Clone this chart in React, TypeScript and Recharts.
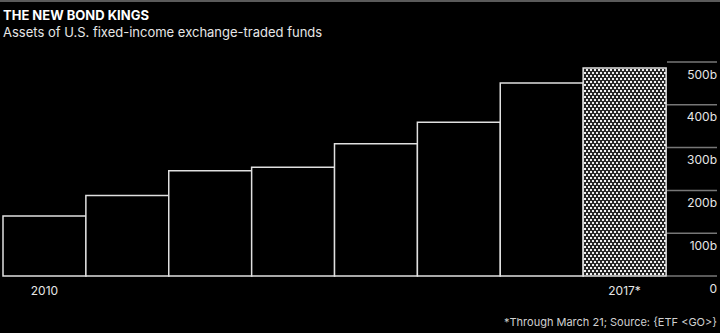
import { BarChart, Bar, XAxis, YAxis, Cell } from 'recharts'

const years = ['2010', '2011', '2012', '2013', '2014', '2015', '2016', '2017*']
const assets = [140, 188, 246, 254, 309, 359, 451, 486]
const yTicks = [0, 100, 200, 300, 400, 500]
const xLabels = ['2010', '2017*']

const data = years.map((year, i) => ({ year, assets: assets[i] }))

const W = 720
const H = 333
const margin = { top: 62, right: 3, left: 3, bottom: 27 }
const yAxisWidth = 51
const plotRight = W - margin.right - yAxisWidth
const font = 'Inter, Roboto, sans-serif'

const YTick = ({ y, payload }: any) => {
  const v = payload.value
  return (
    <g>
      <line x1={plotRight + 1} x2={W - margin.right} y1={y} y2={y} stroke="#777" strokeWidth={1.5} />
      <text x={W - margin.right} y={y + 16.5} textAnchor="end" fill="#e6e6e6" fontSize={12} fontFamily={font}>
        {v === 0 ? '0' : `${v}b`}
      </text>
    </g>
  )
}

const XTick = ({ x, y, payload }: any) => {
  if (!xLabels.includes(payload.value)) return null
  return (
    <text x={x} y={y + 11} textAnchor="middle" fill="#e6e6e6" fontSize={12} fontFamily={font}>
      {payload.value}
    </text>
  )
}

export default function App() {
  return (
    <div style={{ position: 'absolute', left: 0, top: 0, width: W, height: H, background: '#000', overflow: 'hidden' }}>
      <div style={{ position: 'absolute', left: 0, top: 0, width: W, height: 2, background: '#5a5a5a' }} />
      <div style={{ position: 'absolute', left: 3, top: 7, color: '#fff', fontFamily: font, fontWeight: 700, fontSize: 13, lineHeight: '16px' }}>
        THE NEW BOND KINGS
      </div>
      <div style={{ position: 'absolute', left: 3, top: 24, color: '#e6e6e6', fontFamily: font, fontSize: 13, lineHeight: '16px' }}>
        Assets of U.S. fixed-income exchange-traded funds
      </div>
      <div style={{ position: 'absolute', right: 3, top: 315, color: '#d0d0d0', fontFamily: font, fontSize: 11, lineHeight: '14px' }}>
        *Through March 21; Source: {'{ETF <GO>}'}
      </div>
      <div style={{ position: 'absolute', left: 0, top: 0 }}>
        <BarChart width={W} height={H} data={data} margin={margin} barCategoryGap={0} barGap={0}>
          <defs>
            <pattern id="dots" width={4} height={6} patternUnits="userSpaceOnUse">
              <rect width={4} height={6} fill="#262626" />
              <rect x={0} y={0} width={2} height={2} fill="#f0f0f0" />
              <rect x={2} y={3} width={2} height={2} fill="#f0f0f0" />
            </pattern>
          </defs>
          <XAxis dataKey="year" axisLine={false} tickLine={false} interval={0} height={30} tick={<XTick />} />
          <YAxis
            orientation="right"
            width={yAxisWidth}
            domain={[0, 500]}
            ticks={yTicks}
            axisLine={false}
            tickLine={false}
            tick={<YTick />}
          />
          <Bar dataKey="assets" stroke="#e0e0e0" strokeWidth={1.5} isAnimationActive={false}>
            {data.map((d, i) => (
              <Cell key={d.year} fill={i === data.length - 1 ? 'url(#dots)' : '#000'} />
            ))}
          </Bar>
        </BarChart>
      </div>
    </div>
  )
}
